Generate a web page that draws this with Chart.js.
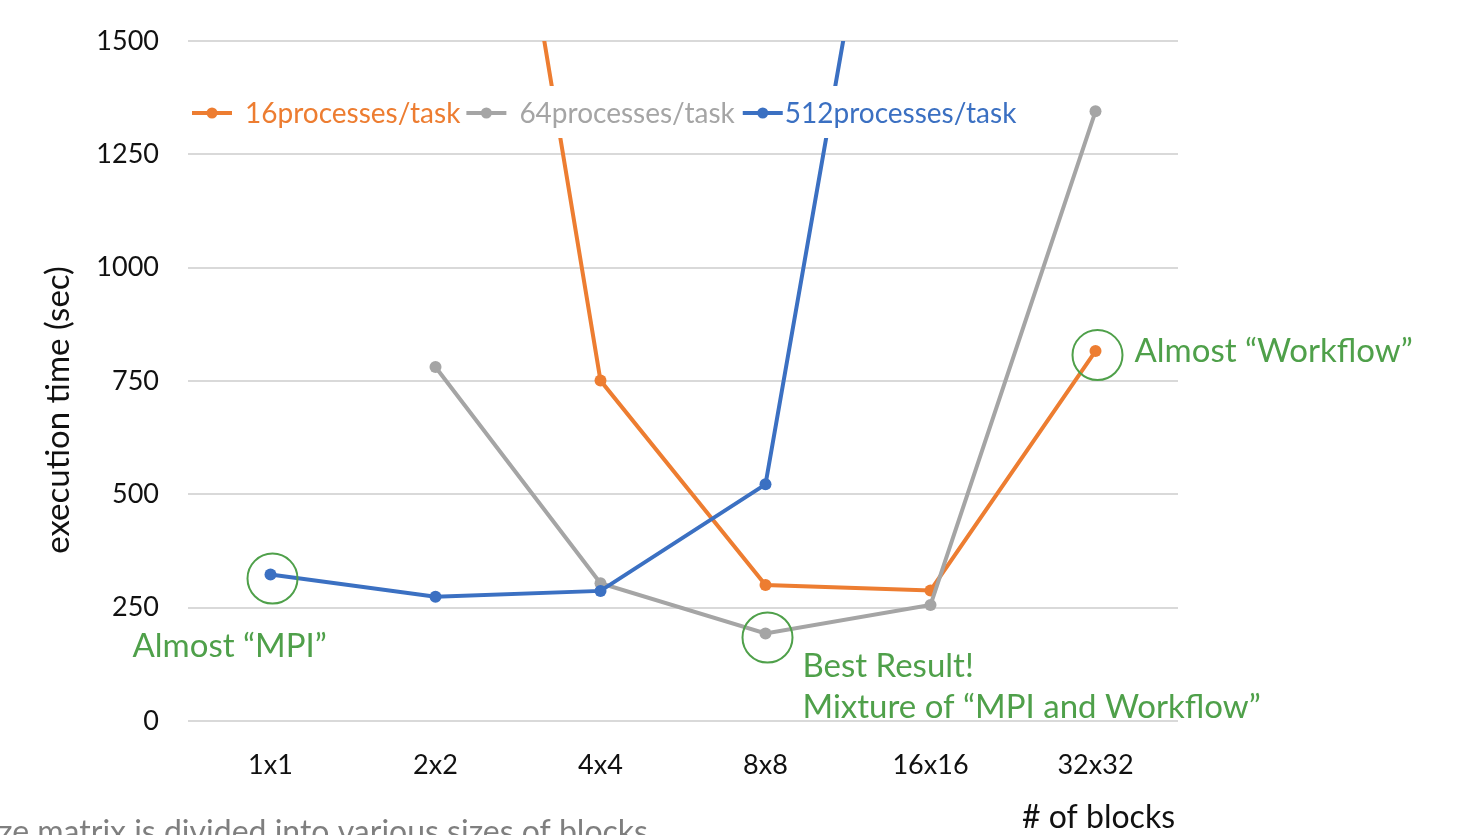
<!DOCTYPE html>
<html>
<head>
<meta charset="utf-8">
<title>execution time by block count</title>
<script src="https://cdn.jsdelivr.net/npm/chart.js@4"></script>
<style>
  html, body { margin: 0; padding: 0; background: #fff; }
  #wrap { position: relative; width: 1457px; height: 835px; }
</style>
</head>
<body>
<div id="wrap"><canvas id="chart"></canvas></div>
<script>
// данные графика
const blocks = ['1x1', '2x2', '4x4', '8x8', '16x16', '32x32'];
const seriesNames = ['16processes/task', '64processes/task', '512processes/task'];
const proc16 = [null, 2950, 751, 300, 288, 816];
const proc64 = [null, 781, 304, 193, 256, 1345];
const proc512 = [323, 274, 287, 522, 2600, null];
const yTicks = [0, 250, 500, 750, 1000, 1250, 1500];

const FONT = 'Lato, "Open Sans", sans-serif';
const GREEN = '#4FA04A';
const colors = ['#ED7D31', '#A5A5A5', '#3B70C2'];

// подписи-аннотации: серия, индекс точки, текст
const notes = [
    { series: 2, idx: 0, lines: ['Almost \u201CMPI\u201D'], dx: -138, dy: 72 },
    { series: 1, idx: 3, lines: ['Best Result!', 'Mixture of \u201CMPI and Workflow\u201D'], dx: 37, dy: 33 },
    { series: 0, idx: 5, lines: ['Almost \u201CWorkflow\u201D'], dx: 39, dy: 0 }
];

const annotPlugin = {
    id: 'annot',
    afterDatasetsDraw(chart) {
        const { ctx, chartArea } = chart;
        const x = chart.scales.x;
        const y = chart.scales.y;
        const data = [proc16, proc64, proc512];
        ctx.save();

        // легенда на белой подложке
        ctx.fillStyle = '#fff';
        ctx.fillRect(chartArea.left, 86, 850, 52);
        const legY = 113;
        let lx = chartArea.left + 4;
        ctx.font = '28px ' + FONT;
        ctx.textBaseline = 'middle';
        ctx.textAlign = 'left';
        seriesNames.forEach((name, i) => {
            ctx.strokeStyle = colors[i];
            ctx.lineWidth = 4;
            ctx.beginPath();
            ctx.moveTo(lx, legY);
            ctx.lineTo(lx + 40, legY);
            ctx.stroke();
            ctx.fillStyle = colors[i];
            ctx.beginPath();
            ctx.arc(lx + 20, legY, 5.5, 0, Math.PI * 2);
            ctx.fill();
            const tx = lx + (i === 2 ? 42 : 53);
            ctx.fillText(name, tx, legY + 1);
            lx = tx + ctx.measureText(name).width + (i === 0 ? 6 : 8);
        });

        // кружки и зелёные подписи
        ctx.font = '33px ' + FONT;
        notes.forEach(n => {
            const px = x.getPixelForValue(n.idx);
            const py = y.getPixelForValue(data[n.series][n.idx]);
            ctx.strokeStyle = GREEN;
            ctx.lineWidth = 2;
            ctx.beginPath();
            ctx.arc(px + 2, py + 4, 25, 0, Math.PI * 2);
            ctx.stroke();
            ctx.fillStyle = GREEN;
            n.lines.forEach((t, k) => {
                ctx.fillText(t, px + n.dx, py + n.dy + k * 41);
            });
        });

        // подписи осей
        ctx.fillStyle = '#111';
        ctx.font = '32px ' + FONT;
        ctx.textAlign = 'right';
        ctx.fillText('# of blocks', chartArea.right - 3, 818);
        ctx.font = '33px ' + FONT;
        ctx.translate(58, 410);
        ctx.rotate(-Math.PI / 2);
        ctx.textAlign = 'center';
        ctx.fillText('execution time (sec)', 0, 0);
        ctx.restore();

        // обрезанная строка внизу слайда
        ctx.save();
        ctx.fillStyle = '#7F7F7F';
        ctx.font = '32px ' + FONT;
        ctx.textAlign = 'left';
        ctx.textBaseline = 'middle';
        ctx.fillText('ze matrix is divided into various sizes of blocks', -2, 833);
        ctx.restore();
    }
};

const mkSet = (label, data, color, order) => ({
    label,
    data,
    borderColor: color,
    backgroundColor: color,
    borderWidth: 4,
    pointRadius: 6,
    pointHoverRadius: 6,
    pointBorderWidth: 0,
    tension: 0,
    spanGaps: false,
    order
});

new Chart(document.getElementById('chart'), {
    type: 'line',
    data: {
        labels: blocks,
        datasets: [
            mkSet(seriesNames[0], proc16, colors[0], 3),
            mkSet(seriesNames[1], proc64, colors[1], 2),
            mkSet(seriesNames[2], proc512, colors[2], 1)
        ]
    },
    options: {
        responsive: true,
        maintainAspectRatio: false,
        animation: false,
        layout: { padding: { top: 41, right: 279, bottom: 0, left: 0 } },
        plugins: {
            legend: { display: false },
            tooltip: { enabled: false }
        },
        scales: {
            x: {
                offset: true,
                grid: { display: false, drawTicks: false },
                border: { display: false },
                ticks: { color: '#111', font: { family: FONT, size: 27 }, padding: 28, maxRotation: 0 },
                afterFit: s => { s.height = 114; }
            },
            y: {
                min: 0,
                max: 1500,
                afterBuildTicks: s => { s.ticks = yTicks.map(v => ({ value: v })); },
                grid: { color: '#D9D9D9', lineWidth: 2, drawTicks: false },
                border: { display: false },
                ticks: {
                    color: '#111',
                    font: { family: FONT, size: 27, lineHeight: 0.8 },
                    padding: 29,
                    callback: v => String(v)
                },
                afterFit: s => { s.width = 188; }
            }
        }
    },
    plugins: [annotPlugin]
});
</script>
</body>
</html>
